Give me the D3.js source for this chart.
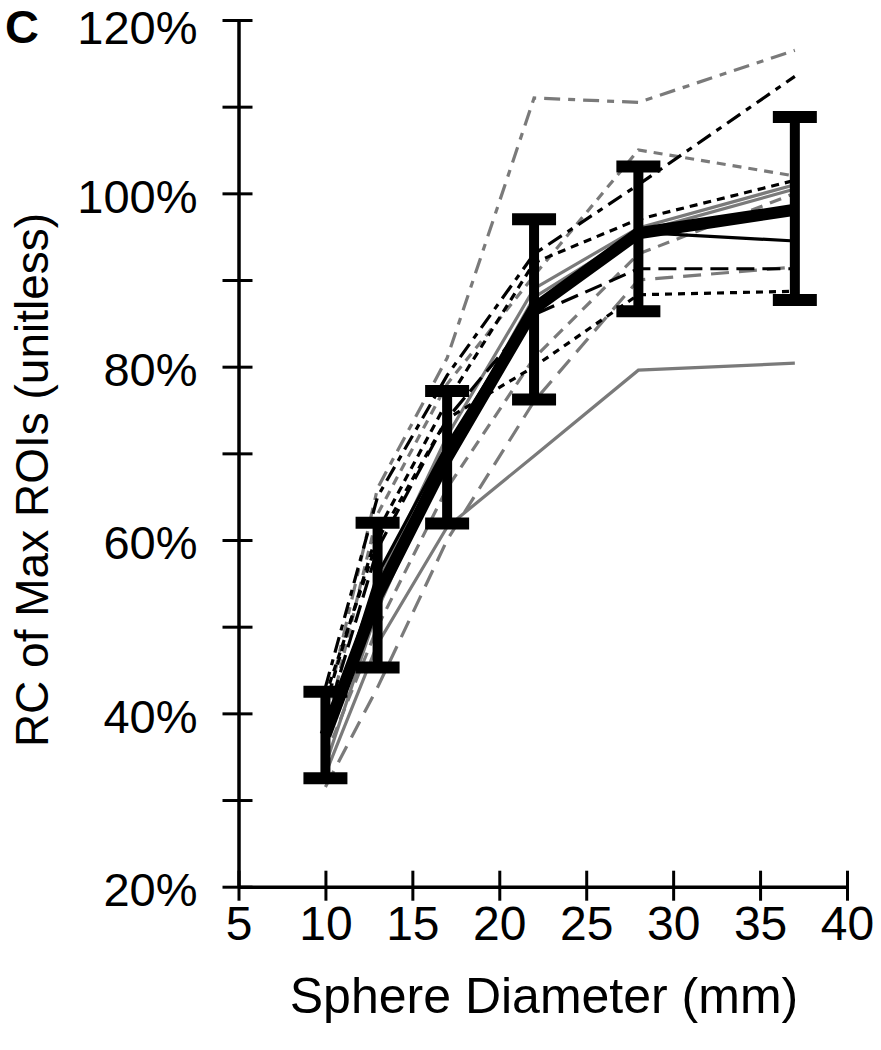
<!DOCTYPE html>
<html>
<head>
<meta charset="utf-8">
<script src="https://cdn.jsdelivr.net/npm/d3@7/dist/d3.min.js"></script>
<style>
html,body{margin:0;padding:0;background:#fff;}
svg{display:block;}
text{font-family:"Liberation Sans",Arial,sans-serif;fill:#000;}
</style>
</head>
<body>
<svg id="chart" width="881" height="1050"></svg>
<script>
// Sphere diameters (mm)
const diameters = [10, 13, 17, 22, 28, 37];
// Individual ROI series (% RC)
const seriesA = [40, 66, 81, 111, 110.5, 116.5];   // gray dash-dot
const seriesB = [43, 65, 79, 93, 101, 113.5];      // black dash-dot
const seriesC = [38, 63, 78, 90.5, 105, 102];      // gray short dash
const seriesD = [41, 61, 76, 92, 97, 101.5];       // black short dash
const seriesE = [36, 55, 72, 89, 96, 101];         // gray solid
const seriesF = [34, 52, 70, 88, 95.5, 100.5];     // gray solid
const seriesG = [37, 56, 71, 87, 95.5, 94.5];      // black solid
const seriesH = [39, 59, 74, 86, 91.3, 91.3];      // black long dash
const seriesI = [31.5, 43, 60, 76, 90, 91.5];      // gray long dash
const seriesJ = [42, 60, 74, 80, 88.3, 88.7];      // black short dash
const seriesK = [33, 48, 61.5, 69.7, 79.6, 80.4];  // gray solid
const seriesL = [35, 50, 66, 81, 93, 100];         // gray dash
// Mean and error bar limits
const meanRC = [37.5, 53.6, 69.5, 86.7, 95.4, 98.1];
const lowerRC = [32.5, 45.3, 61.9, 76.2, 86.4, 87.7];
const upperRC = [42.5, 62.0, 77.2, 97.0, 103.1, 108.8];
// Tick values
const xTicks = [5, 10, 15, 20, 25, 30, 35, 40];
const yTicks = [20, 30, 40, 50, 60, 70, 80, 90, 100, 110, 120];
const yLabelTicks = [20, 40, 60, 80, 100, 120];

const GRAY = "#7a7a7a";
const lines = [
  {v: seriesK, c: GRAY, d: null},
  {v: seriesI, c: GRAY, d: "18,10"},
  {v: seriesL, c: GRAY, d: "12,8"},
  {v: seriesE, c: GRAY, d: null},
  {v: seriesF, c: GRAY, d: null},
  {v: seriesC, c: GRAY, d: "9,7"},
  {v: seriesA, c: GRAY, d: "16,8,7,8"},
  {v: seriesJ, c: "#000", d: "7,6"},
  {v: seriesH, c: "#000", d: "18,8"},
  {v: seriesG, c: "#000", d: null},
  {v: seriesD, c: "#000", d: "8,6"},
  {v: seriesB, c: "#000", d: "16,7,6,7"}
];

const svg = d3.select("#chart");
const x = d3.scaleLinear().domain([5, 40]).range([238.5, 847]);
const y = d3.scaleLinear().domain([20, 120]).range([886.7, 20]);

const line = d3.line().x((d, i) => x(diameters[i])).y(d => y(d));

// individual lines
svg.append("g").selectAll("path").data(lines).join("path")
  .attr("d", d => line(d.v))
  .attr("fill", "none")
  .attr("stroke", d => d.c)
  .attr("stroke-width", 3.2)
  .attr("stroke-dasharray", d => d.d)
  .attr("stroke-linejoin", "miter");

// mean line
svg.append("path")
  .attr("d", line(meanRC))
  .attr("fill", "none")
  .attr("stroke", "#000")
  .attr("stroke-width", 12)
  .attr("stroke-linejoin", "round");

// error bars
const eb = svg.append("g");
diameters.forEach((dm, i) => {
  const cx = x(dm);
  eb.append("line").attr("x1", cx).attr("x2", cx)
    .attr("y1", y(lowerRC[i])).attr("y2", y(upperRC[i]))
    .attr("stroke", "#000").attr("stroke-width", 10);
  [lowerRC[i], upperRC[i]].forEach(v => {
    eb.append("line").attr("x1", cx - 22).attr("x2", cx + 22)
      .attr("y1", y(v)).attr("y2", y(v))
      .attr("stroke", "#000").attr("stroke-width", 12);
  });
});

// Y axis
const yAxis = svg.append("g").attr("transform", "translate(238.5,0)")
  .call(d3.axisLeft(y).tickValues(yTicks).tickSize(16).tickSizeOuter(0).tickPadding(25)
    .tickFormat(d => yLabelTicks.includes(d) ? d + "%" : ""));
yAxis.select(".domain").attr("stroke-width", 3.5);
yAxis.selectAll(".tick line").attr("x1", 14).attr("stroke-width", 3);
yAxis.selectAll(".tick text").attr("font-size", 47)
  .attr("dy", d => d === 120 ? "0.49em" : "0.4em")
  .style("font-family", "'Liberation Sans', Arial, sans-serif").attr("fill", "#000");

// X axis
const xAxis = svg.append("g").attr("transform", "translate(0,886.7)")
  .call(d3.axisBottom(x).tickValues(xTicks).tickSize(14).tickSizeOuter(0).tickPadding(5));
xAxis.select(".domain").attr("stroke-width", 3.5);
xAxis.selectAll(".tick line").attr("y1", -16).attr("stroke-width", 3);
xAxis.selectAll(".tick text").attr("font-size", 48)
  .style("font-family", "'Liberation Sans', Arial, sans-serif").attr("fill", "#000");

// Titles
svg.append("text").attr("x", 544).attr("y", 1013).attr("text-anchor", "middle")
  .attr("font-size", 50).text("Sphere Diameter (mm)");
svg.append("text").attr("transform", "translate(48,480) rotate(-90)")
  .attr("text-anchor", "middle").attr("font-size", 46).text("RC of Max ROIs (unitless)");
svg.append("text").attr("x", 5).attr("y", 43).attr("font-size", 47)
  .attr("font-weight", "bold").text("C");
</script>
</body>
</html>
